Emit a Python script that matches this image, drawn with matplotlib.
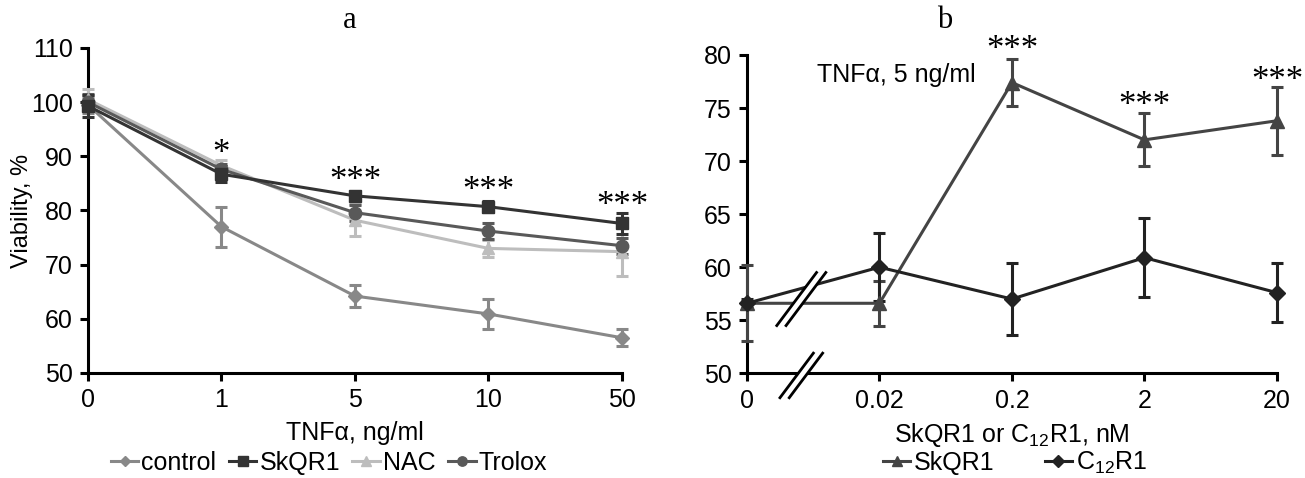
"""
Cell viability under TNFa: antioxidant comparison (a) and SkQR1 / C12R1 dose (b).
"""
import matplotlib
matplotlib.use("Agg")
import matplotlib.pyplot as plt
from matplotlib.lines import Line2D

plt.rcParams["font.family"] = ["Liberation Sans", "DejaVu Sans"]
plt.rcParams["mathtext.fontset"] = "custom"
plt.rcParams["mathtext.rm"] = "Liberation Sans"
plt.rcParams["mathtext.it"] = "Liberation Sans:italic"

# ---- panel a data ----
tnf_labels = ["0", "1", "5", "10", "50"]
control = [99.5, 77.0, 64.2, 60.9, 56.5]
control_err = [1.5, 3.7, 2.0, 2.8, 1.6]
skqr1_a = [99.3, 86.7, 82.7, 80.7, 77.6]
skqr1_a_err = [2.0, 1.5, 0.8, 1.0, 2.0]
nac = [100.5, 88.3, 78.2, 73.0, 72.4]
nac_err = [2.0, 1.0, 3.0, 1.5, 4.5]
trolox = [100.0, 87.6, 79.6, 76.2, 73.5]
trolox_err = [1.5, 1.0, 1.5, 1.5, 1.5]
stars_a = ["", "*", "***", "***", "***"]
stars_a_y = [None, 90.4, 85.3, 83.5, 80.8]

# ---- panel b data ----
dose_labels = ["0", "0.02", "0.2", "2", "20"]
skqr1_b = [56.6, 56.6, 77.4, 72.0, 73.8]
skqr1_b_err = [3.6, 2.1, 2.2, 2.5, 3.2]
c12r1 = [56.6, 60.0, 57.0, 60.9, 57.6]
c12r1_err = [0.4, 3.2, 3.4, 3.7, 2.8]
stars_b = ["", "", "***", "***", "***"]
stars_b_y = [None, None, 80.4, 75.1, 77.5]

fig = plt.figure(figsize=(13.05, 4.78), dpi=100)
ax_a = fig.add_axes([0.0674, 0.2197, 0.4092, 0.6799])
ax_b = fig.add_axes([0.5724, 0.2190, 0.4061, 0.6660])

FS = 18
STAR_FS = 25
x = range(len(tnf_labels))


def errline(ax, y, err, color, marker, ms, label):
    ax.errorbar(x, y, yerr=err, color=color, marker=marker, ms=ms,
                lw=2.2, elinewidth=2.2, capsize=4, capthick=2.2,
                clip_on=False, zorder=3)
    return Line2D([], [], color=color, marker=marker, ms=ms * 0.75, lw=2.2,
                  label=label)


def style(ax, labels, ylim, yticks):
    for s in ("top", "right"):
        ax.spines[s].set_visible(False)
    for s in ("left", "bottom"):
        ax.spines[s].set_linewidth(2.2)
    ax.set_xlim(0, 4)
    ax.set_ylim(*ylim)
    ax.set_yticks(yticks)
    ax.set_xticks(list(x))
    ax.set_xticklabels(labels)
    ax.tick_params(labelsize=FS, width=2.2, length=6, pad=5)


# ---- panel a ----
h_c = errline(ax_a, control, control_err, "#888888", "D", 7, "control")
h_n = errline(ax_a, nac, nac_err, "#bdbdbd", "^", 9, "NAC")
h_t = errline(ax_a, trolox, trolox_err, "#595959", "o", 9, "Trolox")
h_s = errline(ax_a, skqr1_a, skqr1_a_err, "#333333", "s", 9, "SkQR1")
style(ax_a, tnf_labels, (50, 110), range(50, 111, 10))
ax_a.set_ylabel("Viability, %", fontsize=17)
ax_a.yaxis.set_label_coords(-0.102, 0.5)
ax_a.set_xlabel("TNF\u03b1, ng/ml", fontsize=FS, labelpad=6)
for i, (s, yy) in enumerate(zip(stars_a, stars_a_y)):
    if s:
        ax_a.text(i, yy, s, ha="center", va="center", fontsize=STAR_FS,
                  family="Liberation Serif")
fig.text(350 / 1305, 1 - 20 / 478, "a", ha="center", va="center",
         fontsize=22, family="Liberation Serif")
fig.legend(handles=[h_c, h_s, h_n, h_t], loc="center",
           bbox_to_anchor=(329 / 1305, 1 - 463 / 478), ncol=4, frameon=False,
           fontsize=FS, handlelength=1.1, handletextpad=0.12,
           columnspacing=0.5, borderaxespad=0, borderpad=0)

# ---- panel b ----
h_sb = errline(ax_b, skqr1_b, skqr1_b_err, "#444444", "^", 10, "SkQR1")
h_cb = errline(ax_b, c12r1, c12r1_err, "#222222", "D", 8,
               "C$_{\\mathregular{12}}$R1")
style(ax_b, dose_labels, (50, 80), range(50, 81, 5))
ax_b.set_xlabel("SkQR1 or C$_{\\mathregular{12}}$R1, nM", fontsize=FS,
                labelpad=6)
for i, (s, yy) in enumerate(zip(stars_b, stars_b_y)):
    if s:
        ax_b.text(i, yy, s, ha="center", va="center", fontsize=STAR_FS,
                  family="Liberation Serif", clip_on=False)
ax_b.text(1.13, 78.1, "TNF\u03b1, 5 ng/ml", ha="center", va="center",
          fontsize=FS)
fig.text(945 / 1305, 1 - 20 / 478, "b", ha="center", va="center",
         fontsize=22, family="Liberation Serif")
fig.legend(handles=[h_sb, h_cb], loc="center",
           bbox_to_anchor=(1015 / 1305, 1 - 463 / 478), ncol=2, frameon=False,
           fontsize=FS, handlelength=1.1, handletextpad=0.15,
           columnspacing=2.0, borderaxespad=0, borderpad=0)

# axis-break marks in panel b
for yc, half in ((57.0, 2.5), (49.8, 2.1)):
    bx = 0.40
    dx = 0.15 * half / 2.5
    ax_b.fill([bx - dx - 0.02, bx - dx + 0.05, bx + dx + 0.05, bx + dx - 0.02],
              [yc - half, yc - half, yc + half, yc + half], color="white",
              zorder=5, clip_on=False, lw=0)
    for off in (-0.025, 0.045):
        ax_b.plot([bx - dx + off, bx + dx + off], [yc - half, yc + half],
                  color="black", lw=2.0, zorder=6, clip_on=False)

fig.savefig("out.png", dpi=100)
